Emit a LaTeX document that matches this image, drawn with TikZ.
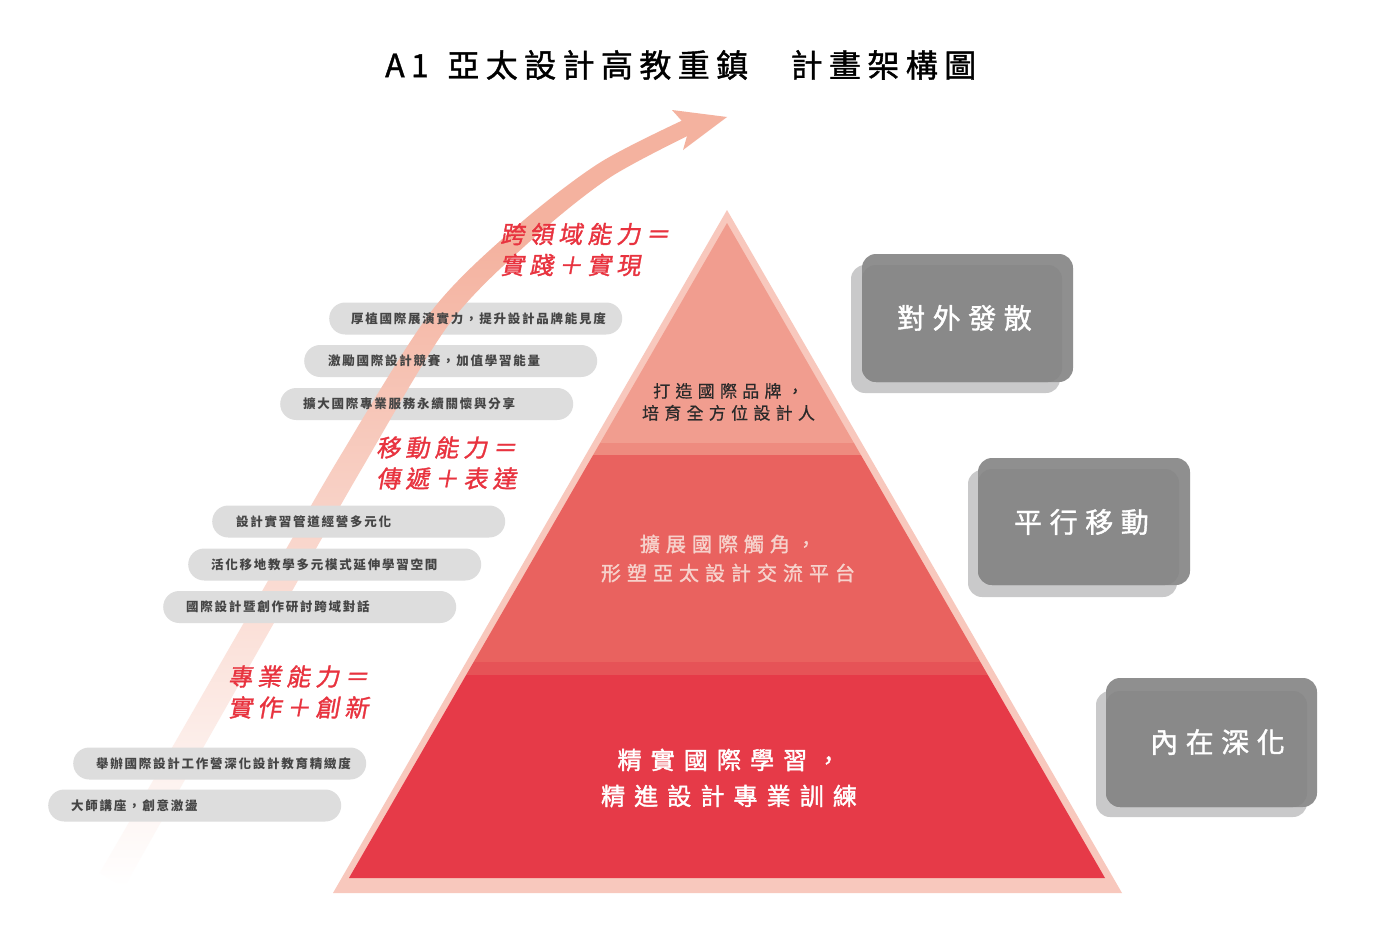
\documentclass[tikz,border=0pt]{standalone}
\usepackage{fontspec}
\setmainfont{Noto Sans CJK TC}
\newfontfamily\titlefont[LetterSpace=20,FakeBold=1.2]{Noto Sans CJK TC}
\newfontfamily\pillfont[LetterSpace=14]{Noto Sans CJK TC}
\newfontfamily\redfont[LetterSpace=21,FakeSlant=0.18,FakeBold=1.3]{Noto Sans CJK TC}
\newfontfamily\boxfont[LetterSpace=27,FakeBold=1.4]{Noto Sans CJK TC}
\newfontfamily\topfont[LetterSpace=31,FakeBold=0.6]{Noto Sans CJK TC}
\newfontfamily\midfont[LetterSpace=30,FakeBold=1.3]{Noto Sans CJK TC}
\newfontfamily\botfont[LetterSpace=38,FakeBold=1.6]{Noto Sans CJK TC}
\definecolor{outerc}{HTML}{F8C8BD}
\definecolor{topc}{HTML}{F19D8F}
\definecolor{bandac}{HTML}{EE8B7F}
\definecolor{midc}{HTML}{E9625F}
\definecolor{bandbc}{HTML}{E65357}
\definecolor{botc}{HTML}{E63A48}
\definecolor{arrowc}{HTML}{F4B29F}
\definecolor{pillc}{HTML}{DDDDDD}
\definecolor{pilltextc}{HTML}{454545}
\definecolor{redc}{HTML}{E8333F}
\definecolor{boxc}{HTML}{8F8F8F}
\definecolor{boxinc}{HTML}{898989}
\definecolor{shadowc}{HTML}{C9C9CA}
\definecolor{midtextc}{HTML}{F6D2CC}
\definecolor{toptextc}{HTML}{2A2A2A}
\pgfdeclareverticalshading{arrowshade}{100bp}{color(0bp)=(white); color(25bp)=(white); color(67bp)=(arrowc); color(100bp)=(arrowc)}
\tikzset{
  pill/.style={fill=pillc, rounded corners=16pt, minimum width=293pt, minimum height=32pt, inner sep=0pt, anchor=west},
  pilltext/.style={anchor=west, inner sep=0pt, text=pilltextc, font=\pillfont\bfseries\fontsize{12.5}{14}\selectfont},
  redlabel/.style={anchor=west, inner sep=0pt, align=left, text=redc, font=\redfont\fontsize{24}{31}\selectfont},
  boxtext/.style={inner sep=0pt, text=white, font=\boxfont\fontsize{28}{32}\selectfont},
  shadowbox/.style={fill=shadowc, rounded corners=14pt},
  mainbox/.style={fill=boxc, rounded corners=14pt},
  innerbox/.style={fill=boxinc, rounded corners=14pt},
}
\begin{document}
\begin{tikzpicture}[x=1pt,y=1pt]
\useasboundingbox (0,0) rectangle (1393,-934);
\fill[white] (0,0) rectangle (1393,-934);

% title
\node[anchor=west, inner sep=0pt, font=\titlefont\fontsize{32}{38}\selectfont, text=black] (title) at (385,-65) {A1 \kern5pt亞太設計高教重鎮　\kern4pt計畫架構圖};

% upper pills (under the arrow)
\node[pill] (p1) at (329,-318.5) {};
\node[pill] (p2) at (304,-361) {};
\node[pill] (p3) at (280,-404) {};

% arrow
\shade[shading=arrowshade] plot[smooth] coordinates {(99.8,-873.0) (184.3,-726.3) (260.7,-593.5) (339.1,-457.8) (431.4,-311.2) (515.3,-227.5) (600.1,-162.5) (691.4,-116.2)} -- plot[smooth] coordinates {(698.8,-130.4) (609.9,-177.5) (528.7,-242.5) (448.6,-324.8) (360.9,-470.2) (283.3,-606.5) (207.7,-739.7) (124.2,-887.0)} -- cycle;
\fill[arrowc] (672,-110) -- (727,-117) -- (683,-150) -- (689,-129) -- cycle;

% lower pills
\node[pill] (p4) at (212,-521.5) {};
\node[pill] (p5) at (188,-564.5) {};
\node[pill] (p6) at (163,-607) {};
\node[pill] (p7) at (73,-763.5) {};
\node[pill] (p8) at (48,-805.5) {};

% pill texts
\node[pilltext] (t1) at (351,-318.5) {厚植國際展演實力，提升設計品牌能見度};
\node[pilltext] (t2) at (328,-361) {激勵國際設計競賽，加值學習能量};
\node[pilltext] (t3) at (303,-404) {擴大國際專業服務永續關懷與分享};
\node[pilltext] (t4) at (236,-521.5) {設計實習管道經營多元化};
\node[pilltext] (t5) at (211,-564.5) {活化移地教學多元模式延伸學習空間};
\node[pilltext] (t6) at (186,-607) {國際設計暨創作研討跨域對話};
\node[pilltext] (t7) at (96,-763.5) {舉辦國際設計工作營深化設計教育精緻度};
\node[pilltext] (t8) at (71,-805.5) {大師講座，創意激盪};

% red labels
\node[redlabel] (r1) at (500,-249.5) {跨領域能力＝\\實踐＋實現};
\node[redlabel] (r2) at (376,-463) {移動能力＝\\傳遞＋表達};
\node[redlabel] (r3) at (228,-692) {專業能力＝\\實作＋創新};

% pyramid
\fill[outerc] (727,-210) -- (1122,-893) -- (333,-893) -- cycle;
\begin{scope}
  \clip (727,-223) -- (1105,-878) -- (349,-878) -- cycle;
  \fill[topc] (300,-200) rectangle (1150,-443);
  \fill[bandac] (300,-443) rectangle (1150,-455);
  \fill[midc] (300,-455) rectangle (1150,-662);
  \fill[bandbc] (300,-662) rectangle (1150,-675);
  \fill[botc] (300,-675) rectangle (1150,-900);
\end{scope}
\node[inner sep=0pt, align=center, text=toptextc, font=\topfont\fontsize{17}{22}\selectfont] (lv1) at (728.5,-402) {打造國際品牌，\\培育全方位設計人};
\node[inner sep=0pt, align=center, text=midtextc, font=\midfont\fontsize{20}{29}\selectfont] (lv2) at (728,-558.5) {擴展國際觸角，\\形塑亞太設計交流平台};
\node[inner sep=0pt, align=center, text=white, font=\botfont\fontsize{24}{36}\selectfont] (lv3) at (729,-778) {精實國際學習，\\精進設計專業訓練};

% grey boxes
\fill[shadowbox] (851,-265) rectangle (1060,-393);
\fill[mainbox] (862,-254) rectangle (1073,-382);
\fill[innerbox] (862,-265) rectangle (1062,-382);
\node[boxtext] (b1) at (964.5,-318) {對外發散};

\fill[shadowbox] (968,-470) rectangle (1177,-597);
\fill[mainbox] (978,-458) rectangle (1190,-585);
\fill[innerbox] (978,-469) rectangle (1179,-585);
\node[boxtext] (b2) at (1081.5,-522) {平行移動};

\fill[shadowbox] (1096,-691) rectangle (1307,-817);
\fill[mainbox] (1106,-678) rectangle (1317,-807);
\fill[innerbox] (1106,-691) rectangle (1307,-807);
\node[boxtext] (b3) at (1217.5,-742) {內在深化};
\end{tikzpicture}
\end{document}
